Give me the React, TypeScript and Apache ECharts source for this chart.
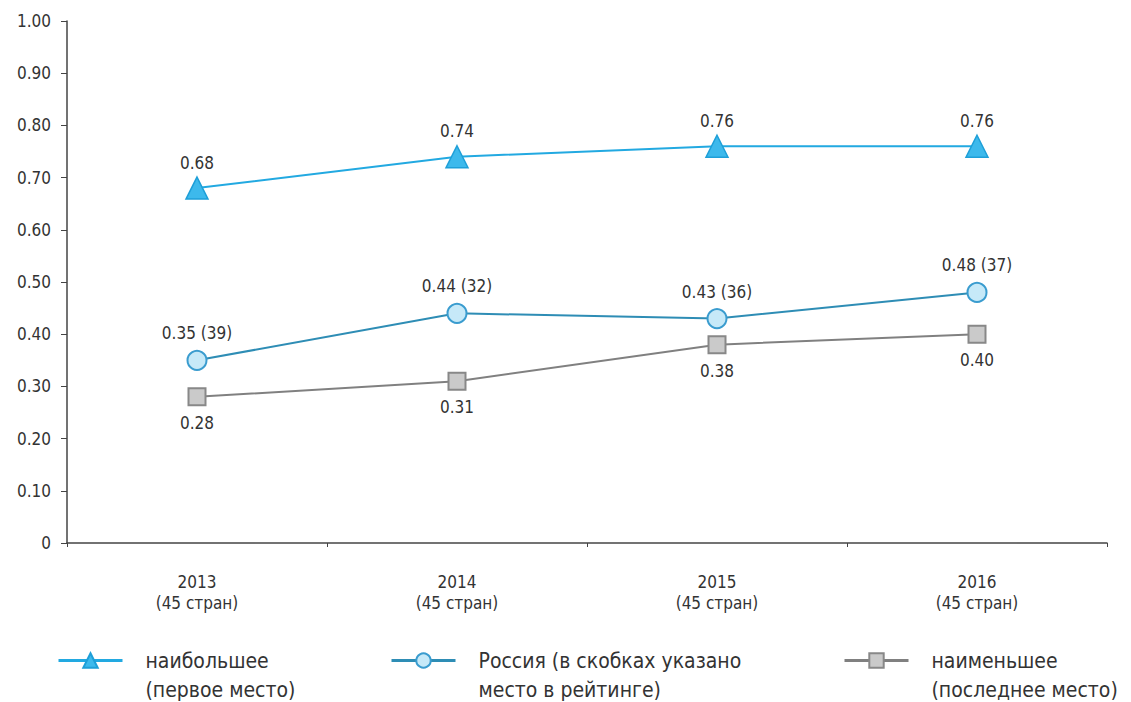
import React, { useEffect, useRef } from "react";
import * as echarts from "echarts";

const categories = ["2013\n(45 стран)", "2014\n(45 стран)", "2015\n(45 стран)", "2016\n(45 стран)"];
const highest = [0.68, 0.74, 0.76, 0.76];
const russia = [0.35, 0.44, 0.43, 0.48];
const russiaRank = [39, 32, 36, 37];
const lowest = [0.28, 0.31, 0.38, 0.4];
const seriesNames = [
  "наибольшее\n(первое место)",
  "Россия (в скобках указано\nместо в рейтинге)",
  "наименьшее\n(последнее место)",
];

const FONT = "'Liberation Sans Narrow', 'DejaVu Sans Condensed', 'Liberation Sans', sans-serif";
const LEGEND_FONT = "'DejaVu Sans Condensed', 'Liberation Sans Narrow', sans-serif";

export default function App() {
  const ref = useRef<HTMLDivElement>(null);
  useEffect(() => {
    if (!ref.current) return;
    const chart = echarts.init(ref.current, null, { renderer: "svg" });
    const legendCommon = {
      orient: "horizontal",
      top: 617,
      padding: 0,
      itemWidth: 64,
      itemHeight: 18,
      itemGap: 22,
      lineStyle: { width: 3 },
      formatter: (n: string) => "\n" + n,
      textStyle: {
        fontFamily: LEGEND_FONT,
        fontSize: 21,
        color: "#333",
        lineHeight: 29,
        padding: [0, 0, 0, 18],
      },
      selectedMode: false,
    };
    chart.setOption({
      animation: false,
      grid: { left: 67, right: 24, top: 21, bottom: 159, containLabel: false },
      xAxis: {
        type: "category",
        data: categories,
        boundaryGap: true,
        axisLine: { lineStyle: { color: "#444", width: 1.5 } },
        axisTick: { show: true, length: 4, lineStyle: { color: "#444" } },
        axisLabel: {
          fontFamily: FONT,
          fontSize: 17,
          color: "#333",
          lineHeight: 21,
          margin: 28,
        },
      },
      yAxis: {
        type: "value",
        min: 0,
        max: 1,
        interval: 0.1,
        splitLine: { show: false },
        axisLine: { show: true, lineStyle: { color: "#444", width: 1.5 } },
        axisTick: { show: true, length: 6, lineStyle: { color: "#444" } },
        axisLabel: {
          fontFamily: FONT,
          fontSize: 17,
          color: "#333",
          margin: 16,
          formatter: (v: number) => (v === 0 ? "0" : v.toFixed(2)),
        },
      },
      legend: [
        { ...legendCommon, left: 57, data: [seriesNames[0]] },
        { ...legendCommon, left: 390, data: [seriesNames[1]] },
        { ...legendCommon, left: 843, data: [seriesNames[2]] },
      ],
      series: [
        {
          name: seriesNames[0],
          type: "line",
          data: highest,
          symbol: "triangle",
          symbolSize: 22,
          lineStyle: { color: "#22A9E1", width: 2 },
          itemStyle: { color: "#3DB9EC", borderColor: "#1E9FD8", borderWidth: 1.5 },
          label: {
            show: true,
            position: "top",
            distance: 5,
            fontFamily: FONT,
            fontSize: 17,
            color: "#333",
            formatter: (p: any) => p.value.toFixed(2),
          },
        },
        {
          name: seriesNames[1],
          type: "line",
          data: russia,
          symbol: "circle",
          symbolSize: 19,
          lineStyle: { color: "#2E8DB5", width: 2 },
          itemStyle: { color: "#C6E9F8", borderColor: "#3A9CCF", borderWidth: 2 },
          label: {
            show: true,
            position: "top",
            distance: 8,
            fontFamily: FONT,
            fontSize: 17,
            color: "#333",
            formatter: (p: any) => `${p.value.toFixed(2)} (${russiaRank[p.dataIndex]})`,
          },
        },
        {
          name: seriesNames[2],
          type: "line",
          data: lowest,
          symbol: "rect",
          symbolSize: 17,
          lineStyle: { color: "#808080", width: 2 },
          itemStyle: { color: "#CACACA", borderColor: "#888888", borderWidth: 2 },
          label: {
            show: true,
            position: "bottom",
            distance: 8,
            fontFamily: FONT,
            fontSize: 17,
            color: "#333",
            formatter: (p: any) => p.value.toFixed(2),
          },
        },
      ],
    });
    return () => chart.dispose();
  }, []);
  return (
    <div
      ref={ref}
      style={{ position: "fixed", left: 0, top: 0, width: 1131, height: 702, background: "#fff" }}
    />
  );
}
